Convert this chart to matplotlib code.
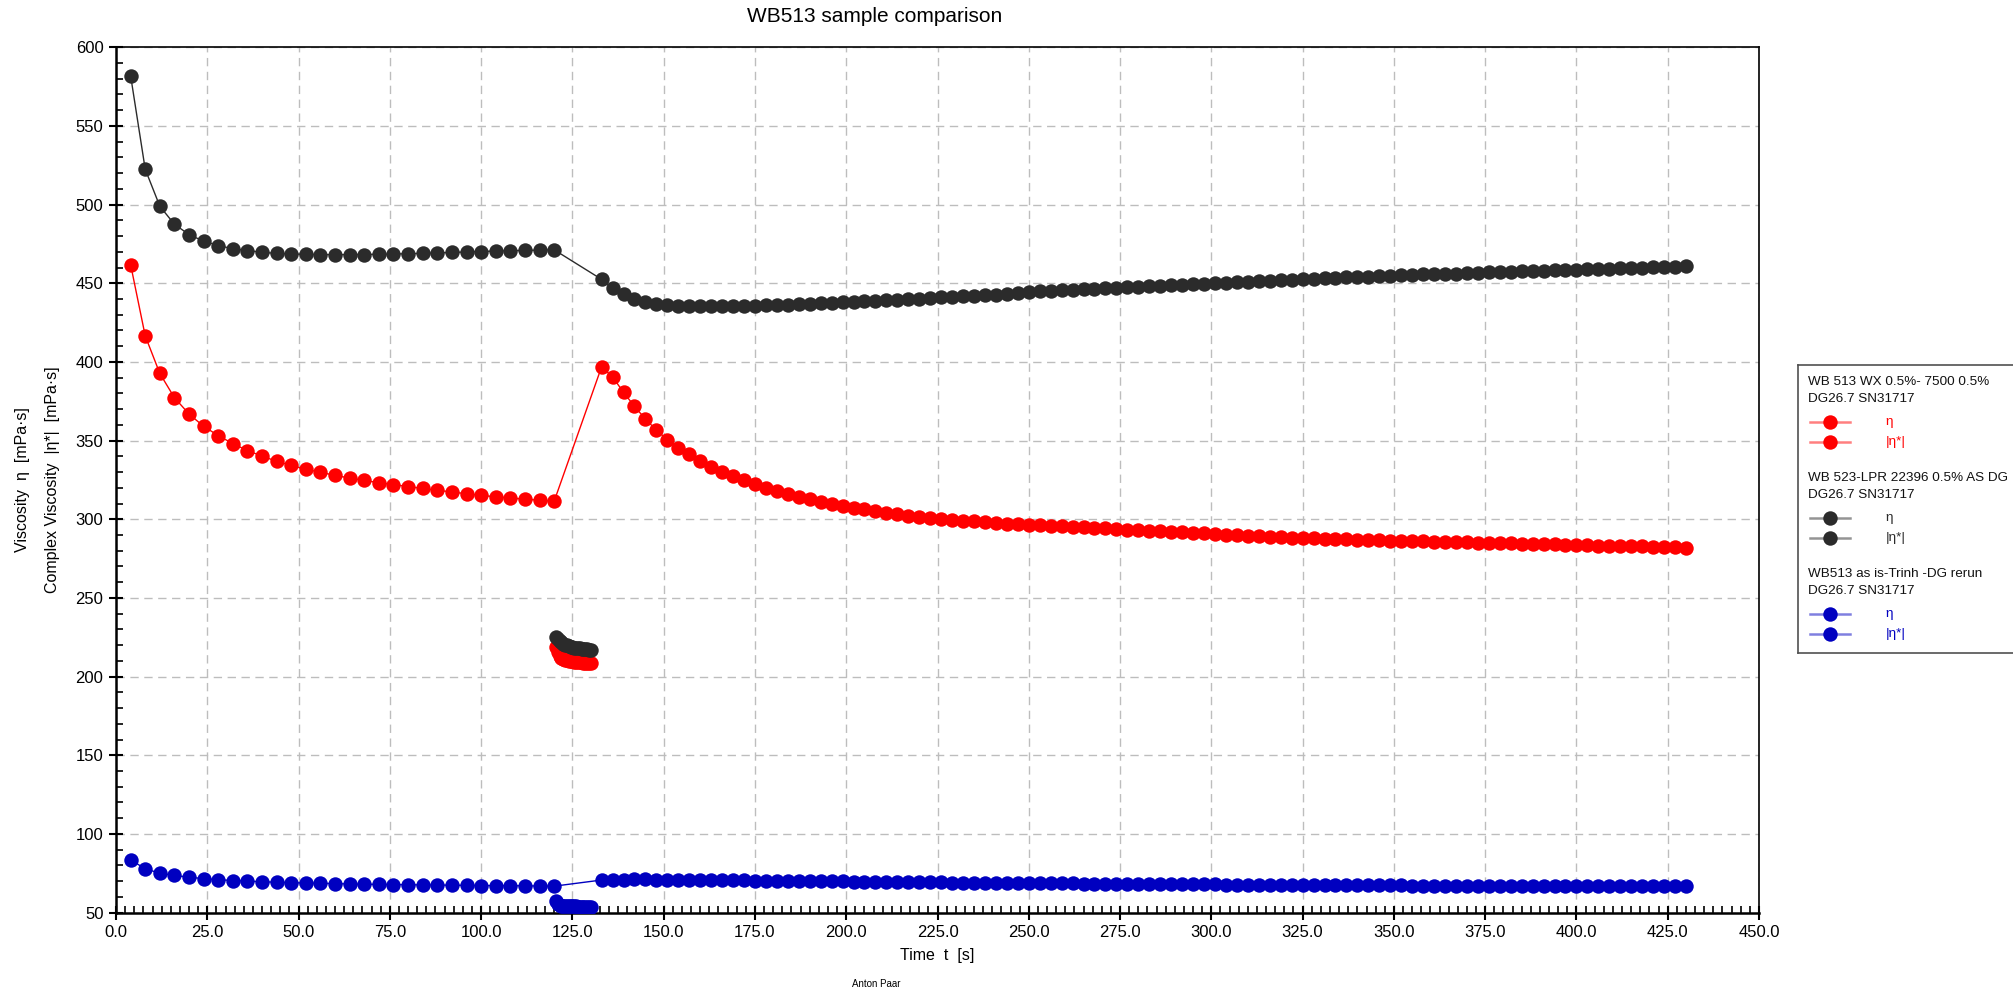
import numpy as np
import matplotlib
matplotlib.use("Agg")
import matplotlib.pyplot as plt
from matplotlib.ticker import MultipleLocator, FormatStrFormatter
from matplotlib.lines import Line2D

plt.rcParams['font.family'] = ['Liberation Sans', 'DejaVu Sans']

# ---------------------------------------------------------------- data
# sampling times [s]
t_rot_a = np.arange(4, 121, 4)          # rotational interval 1
t_osc = np.arange(120.5, 130.01, 0.5)   # oscillatory interval
t_rot_b = np.arange(133, 431, 3)        # rotational interval 2

# WB 513 WX 0.5%- 7500 0.5%
wx_eta_a = [461.9, 416.6, 392.7, 377.3, 366.9, 359.1, 353.2, 348.1, 343.7, 340.1,
            336.9, 334.2, 331.8, 329.9, 327.9, 326.2, 324.7, 323.3, 322.1, 320.8,
            319.6, 318.4, 317.4, 316.2, 315.2, 314.3, 313.5, 312.8, 312.1, 311.4]
wx_cplx = [219.0, 215.5, 213.0, 212.0, 211.3, 210.8, 210.4, 210.1, 209.9, 209.7,
           209.5, 209.3, 209.2, 209.1, 209.0, 208.9, 208.8, 208.7, 208.6, 208.5]
wx_eta_b = [396.9, 390.5, 380.7, 371.8, 363.7, 356.7, 350.6, 345.3, 341.2, 337.2,
            333.4, 330.2, 327.4, 324.9, 322.3, 319.8, 317.9, 316.0, 314.2, 312.8,
            311.1, 309.8, 308.5, 307.4, 306.4, 305.3, 304.3, 303.4, 302.3, 301.5,
            300.9, 300.2, 299.6, 299.2, 298.6, 298.1, 297.6, 297.2, 296.9, 296.6,
            296.2, 295.9, 295.5, 295.2, 294.8, 294.5, 294.2, 293.8, 293.5, 293.1,
            292.8, 292.4, 292.1, 291.7, 291.4, 291.0, 290.6, 290.3, 289.9, 289.6,
            289.3, 289.0, 288.7, 288.4, 288.1, 287.9, 287.7, 287.5, 287.3, 287.1,
            286.9, 286.7, 286.5, 286.3, 286.2, 286.0, 285.8, 285.7, 285.5, 285.4,
            285.2, 285.0, 284.9, 284.7, 284.5, 284.3, 284.2, 284.0, 283.8, 283.6,
            283.5, 283.3, 283.2, 283.1, 282.9, 282.8, 282.6, 282.5, 282.3, 282.0]

# WB 523-LPR 22396 0.5% AS DG
lpr_eta_a = [582.0, 522.5, 499.0, 487.5, 481.0, 476.7, 474.0, 472.0, 470.8, 469.7,
             469.0, 468.6, 468.4, 468.2, 468.2, 468.2, 468.3, 468.4, 468.6, 468.8,
             469.0, 469.3, 469.6, 469.9, 470.2, 470.5, 470.7, 470.9, 471.1, 471.3]
lpr_cplx = [225.4, 223.8, 222.6, 221.8, 221.0, 220.4, 219.9, 219.5, 219.1, 218.8,
            218.5, 218.3, 218.1, 217.9, 217.7, 217.6, 217.4, 217.3, 217.2, 217.0]
lpr_eta_b = [452.5, 446.8, 443.0, 440.0, 438.1, 437.0, 436.4, 435.8, 435.6, 435.4,
             435.3, 435.3, 435.4, 435.6, 435.8, 436.0, 436.2, 436.4, 436.7, 437.0,
             437.2, 437.6, 437.9, 438.2, 438.5, 438.9, 439.2, 439.5, 439.9, 440.2,
             440.6, 441.0, 441.3, 441.7, 442.1, 442.5, 442.8, 443.3, 443.9, 444.5,
             444.9, 445.2, 445.5, 445.9, 446.2, 446.5, 446.8, 447.1, 447.5, 447.8,
             448.1, 448.5, 448.8, 449.1, 449.4, 449.8, 450.1, 450.4, 450.7, 451.0,
             451.3, 451.6, 451.9, 452.2, 452.5, 452.8, 453.1, 453.4, 453.7, 454.0,
             454.3, 454.6, 454.9, 455.2, 455.4, 455.6, 455.8, 456.0, 456.2, 456.4,
             456.6, 456.9, 457.1, 457.4, 457.6, 457.8, 458.1, 458.3, 458.5, 458.7,
             458.9, 459.1, 459.3, 459.5, 459.7, 459.9, 460.1, 460.3, 460.6, 461.0]

# WB513 as is-Trinh -DG rerun
rerun_eta_a = [83.6, 77.8, 75.1, 73.6, 72.5, 71.6, 70.9, 70.4, 70.0, 69.6,
               69.3, 69.0, 68.8, 68.6, 68.4, 68.2, 68.0, 67.9, 67.8, 67.7,
               67.6, 67.5, 67.4, 67.3, 67.2, 67.1, 67.1, 67.0, 66.9, 66.8]
rerun_cplx = [57.2, 55.5, 54.8, 54.5, 54.3, 54.2, 54.1, 54.0, 54.0, 53.9,
              53.9, 53.9, 53.8, 53.8, 53.8, 53.8, 53.8, 53.8, 53.8, 53.8]
rerun_eta_b = [70.7, 70.9, 71.0, 71.1, 71.1, 71.0, 71.0, 70.9, 70.9, 70.8,
               70.8, 70.7, 70.6, 70.5, 70.4, 70.4, 70.3, 70.2, 70.1, 70.0,
               70.0, 69.9, 69.8, 69.7, 69.7, 69.6, 69.5, 69.4, 69.4, 69.3,
               69.2, 69.2, 69.1, 69.0, 69.0, 68.9, 68.9, 68.8, 68.8, 68.7,
               68.7, 68.6, 68.5, 68.5, 68.4, 68.4, 68.3, 68.3, 68.2, 68.2,
               68.1, 68.1, 68.0, 68.0, 68.0, 67.9, 67.9, 67.8, 67.8, 67.7,
               67.7, 67.7, 67.6, 67.6, 67.6, 67.5, 67.5, 67.5, 67.4, 67.4,
               67.4, 67.3, 67.3, 67.3, 67.2, 67.2, 67.2, 67.2, 67.1, 67.1,
               67.1, 67.1, 67.0, 67.0, 67.0, 67.0, 66.9, 66.9, 66.9, 66.9,
               66.8, 66.8, 66.8, 66.8, 66.7, 66.7, 66.7, 66.7, 66.6, 66.6]

sample_names = [["WB 513 WX 0.5%- 7500 0.5%", "DG26.7 SN31717"],
                ["WB 523-LPR 22396 0.5% AS DG", "DG26.7 SN31717"],
                ["WB513 as is-Trinh -DG rerun", "DG26.7 SN31717"]]
series_labels = ["\u03b7", "|\u03b7*|"]
colors = ["#ff0000", "#2b2b2b", "#0000c0"]

samples = [(wx_eta_a, wx_eta_b, wx_cplx),
           (lpr_eta_a, lpr_eta_b, lpr_cplx),
           (rerun_eta_a, rerun_eta_b, rerun_cplx)]

# ---------------------------------------------------------------- figure
W, H = 2013, 990
fig = plt.figure(figsize=(W / 100, H / 100), dpi=100)
fig.patch.set_facecolor("white")

ax_l, ax_r, ax_t, ax_b = 116, 1759, 47.3, 912.6
ax = fig.add_axes([ax_l / W, 1 - ax_b / H, (ax_r - ax_l) / W, (ax_b - ax_t) / H])

ms = 10.4
t_rot = np.concatenate([t_rot_a, t_rot_b])
for (eta_a, eta_b, cplx), c in zip(samples, colors):
    ax.plot(t_rot, np.concatenate([eta_a, eta_b]), "-o", color=c, lw=1.0,
            ms=ms, mew=0, zorder=3)
    ax.plot(t_osc, cplx, "-o", color=c, lw=1.0, ms=ms, mew=0, zorder=3)

ax.set_xlim(0, 450)
ax.set_ylim(50, 600)
ax.xaxis.set_major_locator(MultipleLocator(25))
ax.xaxis.set_minor_locator(MultipleLocator(2.5))
ax.yaxis.set_major_locator(MultipleLocator(50))
ax.yaxis.set_minor_locator(MultipleLocator(10))
ax.xaxis.set_major_formatter(FormatStrFormatter("%.1f"))
ax.yaxis.set_major_formatter(FormatStrFormatter("%d"))

ax.grid(True, which="major", color="#bdbdbd", linestyle=(0, (6, 4)), lw=1.0, zorder=0)
ax.set_axisbelow(True)

ax.tick_params(which="major", direction="inout", length=10, width=1.5,
               labelsize=12, colors="black", top=False, right=False)
ax.tick_params(which="minor", direction="in", length=5, width=1.2,
               top=False, right=False)
ax.tick_params(axis="x", which="major", pad=4)
ax.tick_params(axis="y", which="major", pad=4)

for side in ["left", "bottom"]:
    ax.spines[side].set_linewidth(1.8)
for side in ["top", "right"]:
    ax.spines[side].set_linewidth(1.2)

ax.set_xlabel("Time  t  [s]", fontsize=11.5, labelpad=6)

# stacked y-axis labels
fig.text(23 / W, 1 - 480 / H, "Viscosity  \u03b7  [mPa\u00b7s]", rotation=90,
         ha="center", va="center", fontsize=11.5)
fig.text(53 / W, 1 - 480 / H, "Complex Viscosity  |\u03b7*|  [mPa\u00b7s]", rotation=90,
         ha="center", va="center", fontsize=11.5)

fig.text(875 / W, 1 - 17 / H, "WB513 sample comparison", ha="center", va="center",
         fontsize=15)
fig.text(876 / W, 1 - 984 / H, "Anton Paar", ha="center", va="center", fontsize=7)

# ---------------------------------------------------------------- legend box
lx0, ly0, ly1 = 1798, 365, 652.7
lax = fig.add_axes([lx0 / W, 1 - ly1 / H, (W - lx0) / W, (ly1 - ly0) / H])
lax.set_xlim(lx0, W)
lax.set_ylim(ly1, ly0)
lax.set_xticks([])
lax.set_yticks([])
lax.patch.set_facecolor("white")
for side in ["left", "top", "bottom"]:
    lax.spines[side].set_color("#505050")
    lax.spines[side].set_linewidth(1.2)
lax.spines["right"].set_visible(False)

group_step = 96
for g, (names, c) in enumerate(zip(sample_names, colors)):
    y0 = 381.7 + g * group_step
    lax.text(1808, y0, names[0], ha="left", va="center", fontsize=9.7, color="#111111")
    lax.text(1808, y0 + 17.3, names[1], ha="left", va="center", fontsize=9.7, color="#111111")
    for k, lab in enumerate(series_labels):
        ye = y0 + 40 + k * 20.6
        lax.add_line(Line2D([1810, 1850], [ye, ye], color=c, alpha=0.5, lw=1.8))
        lax.plot([1830], [ye], "o", color=c, ms=ms, mew=0)
        lax.text(1885.7, ye, lab, ha="left", va="center", fontsize=9.7, color=c)

fig.savefig("out.png", dpi=100, facecolor="white")
